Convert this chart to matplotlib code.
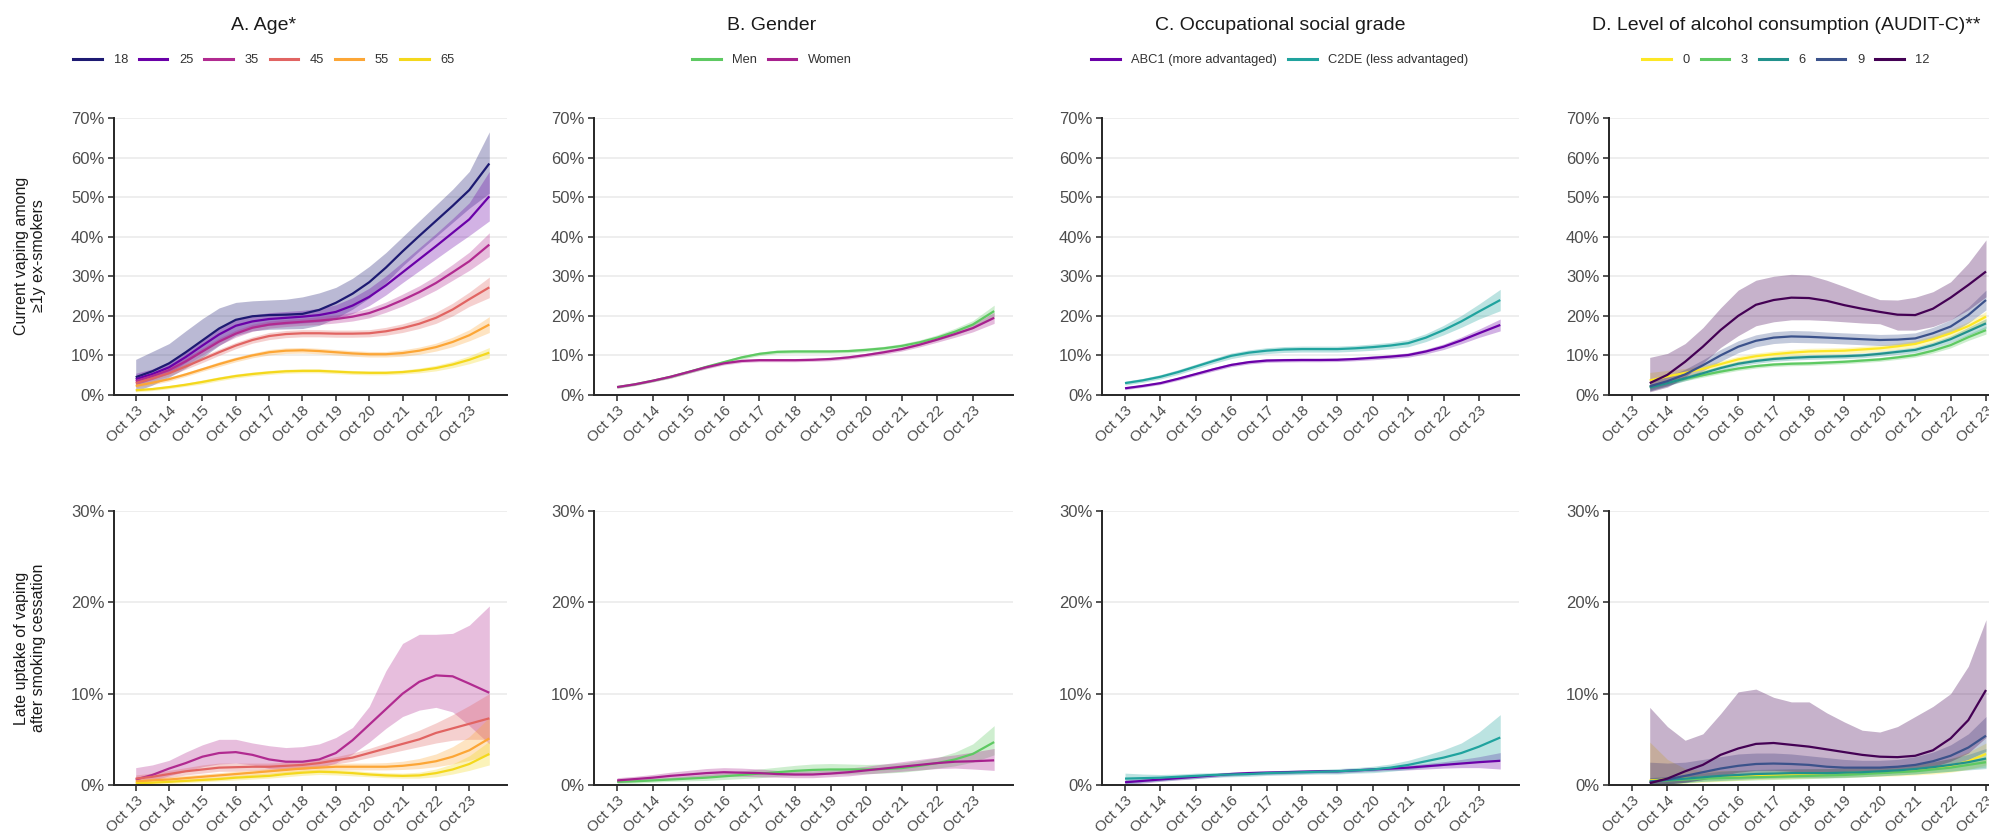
import matplotlib
matplotlib.use("Agg")
import matplotlib.pyplot as plt
from matplotlib.lines import Line2D

plt.rcParams["font.family"] = ["Liberation Sans", "DejaVu Sans"]

# x = years since October 2013
X = [0, 0.5, 1, 1.5, 2, 2.5, 3, 3.5, 4, 4.5, 5, 5.5, 6, 6.5, 7, 7.5, 8, 8.5, 9, 9.5, 10, 10.6]
XD = [0.5, 1, 1.5, 2, 2.5, 3, 3.5, 4, 4.5, 5, 5.5, 6, 6.5, 7, 7.5, 8, 8.5, 9, 9.5, 10]
tick_years = [0, 1, 2, 3, 4, 5, 6, 7, 8, 9, 10]
tick_labels = ["Oct 13", "Oct 14", "Oct 15", "Oct 16", "Oct 17", "Oct 18",
               "Oct 19", "Oct 20", "Oct 21", "Oct 22", "Oct 23"]

titles = ["A. Age*", "B. Gender", "C. Occupational social grade",
          "D. Level of alcohol consumption (AUDIT-C)**"]
row_labels = ["Current vaping among\n\u22651y ex-smokers",
              "Late uptake of vaping\nafter smoking cessation"]

# ---- A. Age, current vaping (%)
age_labels = ["18", "25", "35", "45", "55", "65"]
age_colors = ["#1d1a72", "#6a00a8", "#b12a90", "#e16462", "#fca636", "#f4d81c"]
a18 = [4.5, 6.0, 8.0, 10.8, 13.8, 16.8, 19.0, 19.9, 20.2, 20.3, 20.5, 21.5, 23.3, 25.6, 28.5, 32.2, 36.3, 40.2, 44.0, 47.8, 51.8, 58.5]
a18_hi = [9.0, 11.0, 13.0, 16.2, 19.3, 22.0, 23.4, 23.8, 24.0, 24.2, 24.8, 25.8, 27.2, 29.5, 32.5, 36.0, 40.0, 44.0, 48.0, 52.0, 56.5, 66.5]
a18_lo = [1.0, 2.5, 4.5, 6.8, 9.5, 12.5, 15.0, 16.2, 16.6, 16.7, 16.8, 17.6, 19.4, 21.7, 24.5, 28.4, 32.6, 36.4, 40.0, 43.6, 47.2, 51.0]
a25 = [4.0, 5.3, 7.0, 9.6, 12.5, 15.3, 17.5, 18.6, 19.2, 19.5, 19.8, 20.2, 21.0, 22.6, 24.8, 27.7, 31.0, 34.3, 37.6, 41.0, 44.4, 50.2]
a25_hi = [5.5, 6.6, 8.4, 11.0, 14.0, 16.9, 19.1, 20.2, 20.8, 21.1, 21.4, 21.9, 22.8, 24.6, 27.0, 30.1, 33.6, 37.2, 40.8, 44.6, 48.6, 56.5]
a25_lo = [2.6, 4.0, 5.6, 8.2, 11.0, 13.7, 15.9, 17.0, 17.6, 17.9, 18.2, 18.5, 19.2, 20.6, 22.6, 25.3, 28.4, 31.4, 34.4, 37.4, 40.3, 44.0]
a35 = [3.5, 4.8, 6.3, 8.5, 11.0, 13.5, 15.5, 17.0, 17.8, 18.2, 18.5, 18.8, 19.2, 19.8, 20.7, 22.2, 24.0, 26.0, 28.3, 31.0, 33.8, 38.0]
a35_hi = [4.5, 5.7, 7.2, 9.4, 11.9, 14.4, 16.4, 17.9, 18.7, 19.1, 19.4, 19.8, 20.2, 20.9, 21.9, 23.5, 25.5, 27.6, 30.1, 33.0, 36.1, 41.0]
a35_lo = [2.6, 3.9, 5.4, 7.6, 10.1, 12.6, 14.6, 16.1, 16.9, 17.3, 17.6, 17.8, 18.2, 18.7, 19.5, 20.9, 22.5, 24.4, 26.5, 29.0, 31.5, 35.0]
a45 = [3.0, 4.2, 5.5, 7.2, 9.0, 10.8, 12.5, 13.9, 14.9, 15.4, 15.6, 15.6, 15.5, 15.5, 15.6, 16.1, 16.9, 18.0, 19.5, 21.6, 24.2, 27.2]
a45_hi = [3.7, 4.9, 6.2, 7.9, 9.8, 11.6, 13.3, 14.7, 15.8, 16.3, 16.5, 16.5, 16.4, 16.4, 16.5, 17.1, 18.0, 19.2, 20.9, 23.2, 26.0, 29.8]
a45_lo = [2.3, 3.5, 4.8, 6.5, 8.2, 10.0, 11.7, 13.1, 14.0, 14.5, 14.7, 14.7, 14.6, 14.6, 14.7, 15.1, 15.8, 16.8, 18.1, 20.0, 22.4, 24.6]
a55 = [2.3, 3.1, 4.0, 5.2, 6.5, 7.8, 9.0, 10.0, 10.8, 11.2, 11.3, 11.1, 10.8, 10.5, 10.3, 10.3, 10.6, 11.2, 12.1, 13.4, 15.1, 17.8]
a55_hi = [2.8, 3.6, 4.5, 5.7, 7.0, 8.4, 9.6, 10.6, 11.5, 11.9, 12.0, 11.8, 11.5, 11.2, 11.0, 11.0, 11.4, 12.1, 13.1, 14.6, 16.5, 19.8]
a55_lo = [1.8, 2.6, 3.5, 4.7, 6.0, 7.2, 8.4, 9.4, 10.1, 10.5, 10.6, 10.4, 10.1, 9.8, 9.6, 9.6, 9.8, 10.3, 11.1, 12.2, 13.7, 15.8]
a65 = [1.2, 1.5, 2.0, 2.6, 3.3, 4.1, 4.8, 5.3, 5.7, 6.0, 6.1, 6.1, 5.9, 5.7, 5.6, 5.6, 5.8, 6.2, 6.8, 7.7, 8.9, 10.7]
a65_hi = [1.6, 1.9, 2.4, 3.0, 3.8, 4.6, 5.3, 5.8, 6.2, 6.5, 6.6, 6.6, 6.4, 6.2, 6.1, 6.1, 6.3, 6.8, 7.5, 8.5, 9.9, 12.0]
a65_lo = [0.8, 1.1, 1.6, 2.2, 2.8, 3.6, 4.3, 4.8, 5.2, 5.5, 5.6, 5.6, 5.4, 5.2, 5.1, 5.1, 5.3, 5.6, 6.1, 6.9, 7.9, 9.4]

# ---- A. Age, late uptake (%)
l35 = [0.6, 1.1, 1.8, 2.4, 3.1, 3.5, 3.6, 3.3, 2.8, 2.55, 2.55, 2.8, 3.5, 4.9, 6.6, 8.3, 10.0, 11.3, 12.0, 11.9, 11.1, 10.1]
l35_hi = [1.9, 2.2, 2.7, 3.6, 4.4, 5.0, 5.0, 4.6, 4.3, 4.1, 4.2, 4.5, 5.2, 6.3, 8.6, 12.5, 15.5, 16.5, 16.5, 16.6, 17.5, 19.6]
l35_lo = [0.2, 0.5, 1.0, 1.5, 2.0, 2.3, 2.4, 2.2, 1.8, 1.7, 1.7, 1.9, 2.4, 3.4, 4.7, 6.2, 7.5, 8.2, 8.5, 8.0, 6.5, 4.5]
l45 = [0.7, 0.9, 1.2, 1.5, 1.7, 1.9, 1.95, 2.0, 2.0, 2.1, 2.2, 2.4, 2.7, 3.0, 3.5, 4.0, 4.5, 5.0, 5.7, 6.2, 6.7, 7.3]
l45_hi = [1.1, 1.3, 1.6, 1.9, 2.2, 2.4, 2.4, 2.4, 2.4, 2.5, 2.6, 2.8, 3.1, 3.5, 4.0, 4.6, 5.3, 6.0, 6.8, 7.7, 8.7, 10.0]
l45_lo = [0.3, 0.5, 0.8, 1.1, 1.3, 1.5, 1.5, 1.6, 1.6, 1.7, 1.8, 2.0, 2.3, 2.6, 3.0, 3.4, 3.8, 4.2, 4.6, 4.9, 5.0, 5.0]
l55 = [0.4, 0.5, 0.6, 0.75, 0.9, 1.05, 1.2, 1.35, 1.5, 1.65, 1.8, 1.9, 2.0, 2.0, 2.0, 2.0, 2.1, 2.3, 2.6, 3.1, 3.8, 5.1]
l55_hi = [0.7, 0.8, 0.9, 1.05, 1.2, 1.35, 1.5, 1.65, 1.8, 1.95, 2.1, 2.2, 2.35, 2.4, 2.4, 2.45, 2.6, 2.9, 3.4, 4.2, 5.3, 7.4]
l55_lo = [0.15, 0.25, 0.35, 0.45, 0.6, 0.75, 0.9, 1.05, 1.2, 1.35, 1.5, 1.6, 1.65, 1.65, 1.65, 1.65, 1.7, 1.8, 2.0, 2.3, 2.7, 3.3]
l65 = [0.2, 0.25, 0.35, 0.45, 0.55, 0.65, 0.8, 0.9, 1.0, 1.2, 1.35, 1.45, 1.4, 1.3, 1.15, 1.05, 1.0, 1.05, 1.3, 1.7, 2.3, 3.4]
l65_hi = [0.4, 0.45, 0.55, 0.65, 0.8, 0.9, 1.05, 1.2, 1.3, 1.5, 1.65, 1.75, 1.7, 1.6, 1.45, 1.35, 1.3, 1.4, 1.75, 2.3, 3.2, 4.8]
l65_lo = [0.05, 0.1, 0.15, 0.25, 0.35, 0.45, 0.55, 0.65, 0.75, 0.9, 1.05, 1.15, 1.1, 1.0, 0.9, 0.8, 0.75, 0.75, 0.9, 1.2, 1.6, 2.2]

# ---- B. Gender
sex_labels = ["Men", "Women"]
sex_colors = ["#5ec962", "#a7208e"]
men = [2.0, 2.7, 3.6, 4.6, 5.8, 7.1, 8.3, 9.5, 10.4, 10.9, 11.0, 11.0, 11.0, 11.1, 11.4, 11.8, 12.4, 13.3, 14.5, 16.0, 17.8, 21.2]
men_ci = [0.3, 0.3, 0.3, 0.35, 0.35, 0.4, 0.4, 0.45, 0.45, 0.45, 0.45, 0.45, 0.45, 0.45, 0.5, 0.5, 0.55, 0.6, 0.7, 0.85, 1.0, 1.5]
women = [2.0, 2.7, 3.6, 4.6, 5.8, 7.0, 8.0, 8.6, 8.8, 8.8, 8.8, 8.9, 9.1, 9.5, 10.1, 10.8, 11.6, 12.7, 14.0, 15.4, 16.9, 19.5]
women_ci = [0.3, 0.3, 0.3, 0.35, 0.35, 0.4, 0.4, 0.4, 0.4, 0.4, 0.4, 0.4, 0.45, 0.45, 0.45, 0.5, 0.5, 0.55, 0.65, 0.8, 0.95, 1.4]
men_l = [0.35, 0.4, 0.5, 0.6, 0.7, 0.8, 0.95, 1.1, 1.25, 1.4, 1.55, 1.65, 1.7, 1.7, 1.7, 1.75, 1.85, 2.1, 2.4, 2.8, 3.4, 4.7]
men_l_hi = [0.6, 0.65, 0.75, 0.85, 1.0, 1.15, 1.35, 1.55, 1.75, 1.95, 2.15, 2.3, 2.35, 2.3, 2.25, 2.3, 2.4, 2.65, 3.0, 3.6, 4.5, 6.5]
men_l_lo = [0.15, 0.2, 0.3, 0.4, 0.45, 0.5, 0.6, 0.7, 0.8, 0.95, 1.05, 1.15, 1.2, 1.2, 1.25, 1.3, 1.4, 1.6, 1.85, 2.1, 2.5, 3.3]
women_l = [0.5, 0.65, 0.8, 1.0, 1.15, 1.3, 1.4, 1.35, 1.3, 1.2, 1.15, 1.15, 1.25, 1.4, 1.6, 1.8, 2.0, 2.2, 2.4, 2.55, 2.6, 2.7]
women_l_hi = [0.8, 0.95, 1.15, 1.4, 1.6, 1.8, 1.9, 1.85, 1.75, 1.6, 1.55, 1.55, 1.65, 1.85, 2.05, 2.3, 2.55, 2.8, 3.05, 3.3, 3.6, 4.0]
women_l_lo = [0.25, 0.4, 0.5, 0.65, 0.8, 0.9, 1.0, 0.95, 0.9, 0.85, 0.8, 0.8, 0.9, 1.0, 1.2, 1.35, 1.5, 1.65, 1.8, 1.85, 1.75, 1.6]

# ---- C. Occupational social grade
occ_labels = ["ABC1 (more advantaged)", "C2DE (less advantaged)"]
occ_colors = ["#6a00a8", "#20a39e"]
abc1 = [1.7, 2.3, 3.0, 4.1, 5.3, 6.5, 7.6, 8.3, 8.7, 8.8, 8.85, 8.85, 8.9, 9.1, 9.4, 9.7, 10.1, 11.0, 12.2, 13.8, 15.6, 17.7]
abc1_ci = [0.35, 0.35, 0.35, 0.4, 0.4, 0.45, 0.45, 0.45, 0.45, 0.45, 0.45, 0.45, 0.45, 0.45, 0.5, 0.5, 0.55, 0.6, 0.7, 0.85, 1.05, 1.5]
c2de = [3.0, 3.7, 4.6, 5.8, 7.2, 8.6, 9.9, 10.7, 11.2, 11.5, 11.6, 11.6, 11.6, 11.8, 12.1, 12.5, 13.1, 14.5, 16.4, 18.6, 21.1, 24.0]
c2de_ci = [0.5, 0.5, 0.55, 0.6, 0.6, 0.65, 0.7, 0.7, 0.75, 0.75, 0.75, 0.75, 0.75, 0.75, 0.8, 0.8, 0.9, 1.0, 1.2, 1.5, 1.9, 2.7]
abc1_l = [0.3, 0.45, 0.6, 0.75, 0.9, 1.05, 1.2, 1.3, 1.35, 1.4, 1.45, 1.5, 1.5, 1.6, 1.7, 1.8, 1.9, 2.05, 2.2, 2.35, 2.5, 2.65]
abc1_l_ci = [0.3, 0.25, 0.2, 0.2, 0.2, 0.2, 0.2, 0.2, 0.2, 0.2, 0.2, 0.2, 0.2, 0.2, 0.2, 0.2, 0.25, 0.3, 0.35, 0.45, 0.6, 0.9]
c2de_l = [0.7, 0.75, 0.8, 0.9, 1.0, 1.1, 1.15, 1.2, 1.3, 1.35, 1.4, 1.45, 1.5, 1.6, 1.7, 1.9, 2.2, 2.6, 3.0, 3.5, 4.2, 5.2]
c2de_l_ci = [0.6, 0.45, 0.35, 0.3, 0.3, 0.25, 0.25, 0.25, 0.25, 0.25, 0.25, 0.25, 0.3, 0.3, 0.35, 0.4, 0.5, 0.65, 0.85, 1.1, 1.6, 2.5]

# ---- D. AUDIT-C
aud_labels = ["0", "3", "6", "9", "12"]
aud_colors = ["#fde725", "#5ec962", "#21918c", "#3b528b", "#440154"]
d0 = [3.7, 4.7, 5.6, 6.6, 7.8, 9.0, 9.8, 10.3, 10.7, 11.0, 11.1, 11.2, 11.5, 11.8, 12.3, 12.9, 14.1, 15.6, 17.4, 19.8]
d0_ci = [2.0, 1.5, 1.1, 0.9, 0.8, 0.8, 0.8, 0.8, 0.8, 0.8, 0.8, 0.8, 0.8, 0.8, 0.8, 0.85, 0.9, 1.0, 1.1, 1.3]
d3 = [2.0, 3.1, 4.1, 5.0, 5.9, 6.7, 7.3, 7.7, 7.9, 8.0, 8.2, 8.4, 8.7, 9.0, 9.5, 10.1, 11.2, 12.6, 14.6, 16.4]
d3_ci = [0.6, 0.55, 0.5, 0.5, 0.5, 0.5, 0.5, 0.5, 0.5, 0.5, 0.5, 0.5, 0.5, 0.5, 0.5, 0.55, 0.6, 0.7, 0.8, 1.0]
d6 = [1.9, 3.0, 4.2, 5.5, 6.8, 7.9, 8.6, 9.1, 9.4, 9.6, 9.7, 9.8, 10.0, 10.4, 10.9, 11.4, 12.6, 14.1, 16.1, 18.1]
d6_ci = [0.8, 0.7, 0.6, 0.6, 0.6, 0.6, 0.6, 0.6, 0.6, 0.6, 0.6, 0.6, 0.6, 0.6, 0.65, 0.7, 0.75, 0.85, 1.0, 1.2]
d9 = [2.2, 3.5, 5.2, 7.5, 10.0, 12.2, 13.7, 14.5, 14.8, 14.7, 14.5, 14.3, 14.1, 13.9, 14.0, 14.3, 15.6, 17.3, 20.2, 24.0]
d9_ci = [1.2, 1.2, 1.3, 1.4, 1.5, 1.5, 1.5, 1.5, 1.5, 1.5, 1.4, 1.4, 1.4, 1.4, 1.4, 1.4, 1.5, 1.7, 2.0, 2.5]
d12 = [3.0, 5.1, 8.4, 12.2, 16.4, 20.0, 22.8, 24.0, 24.6, 24.5, 23.8, 22.7, 21.8, 21.0, 20.3, 20.2, 21.8, 24.6, 27.8, 31.2]
d12_hi = [9.5, 10.5, 13.0, 17.0, 22.0, 26.5, 29.0, 30.0, 30.5, 30.3, 29.0, 27.4, 25.7, 24.1, 24.0, 24.7, 26.1, 28.6, 33.3, 39.2]
d12_lo = [0.8, 2.0, 4.5, 8.0, 12.0, 15.0, 17.5, 18.5, 19.0, 19.0, 18.8, 18.5, 18.2, 18.0, 16.4, 16.4, 17.3, 19.0, 21.5, 24.8]

d0_l = [0.5, 0.6, 0.7, 0.8, 0.9, 1.0, 1.05, 1.1, 1.15, 1.2, 1.25, 1.3, 1.35, 1.4, 1.5, 1.6, 1.8, 2.1, 2.6, 3.4]
d0_l_hi = [4.7, 2.8, 1.8, 1.6, 1.6, 1.6, 1.6, 1.65, 1.7, 1.75, 1.8, 1.85, 1.9, 1.95, 2.05, 2.2, 2.5, 2.9, 3.6, 4.6]
d0_l_lo = [0.0, 0.1, 0.2, 0.3, 0.4, 0.5, 0.6, 0.65, 0.7, 0.75, 0.8, 0.85, 0.9, 0.95, 1.0, 1.1, 1.2, 1.4, 1.7, 2.2]
d3_l = [0.4, 0.5, 0.6, 0.7, 0.75, 0.8, 0.85, 0.9, 0.95, 1.0, 1.05, 1.1, 1.2, 1.3, 1.4, 1.5, 1.7, 1.9, 2.2, 2.5]
d3_l_ci = [0.35, 0.35, 0.35, 0.3, 0.3, 0.3, 0.3, 0.3, 0.3, 0.3, 0.3, 0.3, 0.3, 0.3, 0.3, 0.3, 0.35, 0.4, 0.45, 0.55]
d6_l = [0.4, 0.55, 0.7, 0.85, 1.0, 1.1, 1.2, 1.25, 1.3, 1.3, 1.3, 1.35, 1.4, 1.5, 1.6, 1.75, 1.95, 2.2, 2.5, 2.9]
d6_l_ci = [0.4, 0.4, 0.45, 0.45, 0.5, 0.5, 0.5, 0.5, 0.5, 0.5, 0.5, 0.5, 0.5, 0.5, 0.5, 0.55, 0.6, 0.7, 0.85, 1.1]
d9_l = [0.3, 0.6, 1.0, 1.4, 1.8, 2.1, 2.3, 2.35, 2.3, 2.2, 2.0, 1.9, 1.9, 1.9, 2.0, 2.2, 2.6, 3.2, 4.1, 5.4]
d9_l_hi = [2.5, 2.4, 2.5, 2.8, 3.1, 3.4, 3.5, 3.5, 3.4, 3.2, 3.0, 2.8, 2.7, 2.7, 2.8, 3.1, 3.6, 4.4, 5.6, 7.5]
d9_l_lo = [0.0, 0.1, 0.3, 0.6, 0.9, 1.1, 1.3, 1.4, 1.4, 1.4, 1.3, 1.3, 1.3, 1.3, 1.4, 1.5, 1.8, 2.2, 2.8, 3.7]
d12_l = [0.2, 0.7, 1.5, 2.2, 3.3, 4.0, 4.5, 4.6, 4.4, 4.2, 3.9, 3.6, 3.3, 3.1, 3.05, 3.2, 3.8, 5.1, 7.1, 10.4]
d12_l_hi = [8.5, 6.4, 4.9, 5.6, 7.8, 10.2, 10.5, 9.6, 9.1, 9.1, 7.9, 6.9, 6.0, 5.8, 6.4, 7.5, 8.6, 10.0, 13.0, 18.1]
d12_l_lo = [0.0, 0.1, 0.3, 0.6, 1.0, 1.4, 1.6, 1.6, 1.5, 1.4, 1.3, 1.3, 1.3, 1.3, 1.4, 1.6, 2.0, 2.6, 3.5, 5.2]


def sym(y, ci):
    return [max(v - e, 0) for v, e in zip(y, ci)], [v + e for v, e in zip(y, ci)]


# series per panel: (x, line, lo, hi, colour)
panels = [
    [
        [(X, a18, a18_lo, a18_hi, age_colors[0]), (X, a25, a25_lo, a25_hi, age_colors[1]),
         (X, a35, a35_lo, a35_hi, age_colors[2]), (X, a45, a45_lo, a45_hi, age_colors[3]),
         (X, a55, a55_lo, a55_hi, age_colors[4]), (X, a65, a65_lo, a65_hi, age_colors[5])],
        [(X, men, *sym(men, men_ci), sex_colors[0]), (X, women, *sym(women, women_ci), sex_colors[1])],
        [(X, abc1, *sym(abc1, abc1_ci), occ_colors[0]), (X, c2de, *sym(c2de, c2de_ci), occ_colors[1])],
        [(XD, d0, *sym(d0, d0_ci), aud_colors[0]), (XD, d3, *sym(d3, d3_ci), aud_colors[1]),
         (XD, d6, *sym(d6, d6_ci), aud_colors[2]), (XD, d9, *sym(d9, d9_ci), aud_colors[3]),
         (XD, d12, d12_lo, d12_hi, aud_colors[4])],
    ],
    [
        [(X, l35, l35_lo, l35_hi, age_colors[2]), (X, l45, l45_lo, l45_hi, age_colors[3]),
         (X, l55, l55_lo, l55_hi, age_colors[4]), (X, l65, l65_lo, l65_hi, age_colors[5])],
        [(X, men_l, men_l_lo, men_l_hi, sex_colors[0]), (X, women_l, women_l_lo, women_l_hi, sex_colors[1])],
        [(X, abc1_l, *sym(abc1_l, abc1_l_ci), occ_colors[0]), (X, c2de_l, *sym(c2de_l, c2de_l_ci), occ_colors[1])],
        [(XD, d0_l, d0_l_lo, d0_l_hi, aud_colors[0]), (XD, d3_l, *sym(d3_l, d3_l_ci), aud_colors[1]),
         (XD, d6_l, *sym(d6_l, d6_l_ci), aud_colors[2]), (XD, d9_l, d9_l_lo, d9_l_hi, aud_colors[3]),
         (XD, d12_l, d12_l_lo, d12_l_hi, aud_colors[4])],
    ],
]
legends = [(age_labels, age_colors), (sex_labels, sex_colors),
           (occ_labels, occ_colors), (aud_labels, aud_colors)]

W, H = 1990, 836
fig = plt.figure(figsize=(W / 100, H / 100), dpi=100)

col_px = [(114, 507), (594, 1013), (1102, 1519), (1609, 2026)]
row_px = [(118, 395), (511, 785)]
col_centre = [264, 772, 1280, 1786]
ylims = [70, 30]
yticks = [[0, 10, 20, 30, 40, 50, 60, 70], [0, 10, 20, 30]]
axis_col = "#262626"

for r, (top, bot) in enumerate(row_px):
    for c, (left, right) in enumerate(col_px):
        ax = fig.add_axes([left / W, 1 - bot / H, (right - left) / W, (bot - top) / H])
        for x, y, lo, hi, col in panels[r][c]:
            ax.fill_between(x, lo, hi, color=col, alpha=0.3, lw=0)
        for x, y, lo, hi, col in panels[r][c]:
            ax.plot(x, y, color=col, lw=1.6, solid_capstyle="butt")
        ax.set_xlim(-0.65, 11.13)
        ax.set_ylim(0, ylims[r])
        ax.set_yticks(yticks[r])
        ax.set_yticklabels([f"{v}%" for v in yticks[r]])
        ax.set_xticks(tick_years)
        ax.set_xticklabels(tick_labels, rotation=45, ha="right", rotation_mode="anchor",
                           fontsize=11)
        ax.grid(axis="y", color="#ebebeb", lw=1.2)
        ax.set_axisbelow(True)
        for s in ["top", "right"]:
            ax.spines[s].set_visible(False)
        for s in ["left", "bottom"]:
            ax.spines[s].set_color(axis_col)
            ax.spines[s].set_linewidth(1.4)
        ax.tick_params(direction="out", length=4, width=1.1, color=axis_col,
                       labelcolor="#4d4d4d", pad=3)
        ax.tick_params(axis="y", labelsize=12)
        ax.tick_params(axis="x", pad=2)

for c in range(4):
    fig.text(col_centre[c] / W, 1 - 25 / H, titles[c], ha="center", va="center",
             fontsize=14, color="#1a1a1a")
    labels, colors = legends[c]
    handles = [Line2D([0], [0], color=col, lw=2.2) for col in colors]
    fig.legend(handles, labels, loc="center", bbox_to_anchor=(col_centre[c] / W, 1 - 60 / H),
               ncol=len(labels), frameon=False, fontsize=9.3, handlelength=2.2,
               handletextpad=0.9, columnspacing=0.85, labelcolor="#333333")

fig.text(30 / W, 1 - 256 / H, row_labels[0], rotation=90, ha="center", va="center",
         fontsize=11.5, color="#1a1a1a", linespacing=1.15)
fig.text(30 / W, 1 - 648 / H, row_labels[1], rotation=90, ha="center", va="center",
         fontsize=11.5, color="#1a1a1a", linespacing=1.15)

fig.savefig("out.png", dpi=100)
